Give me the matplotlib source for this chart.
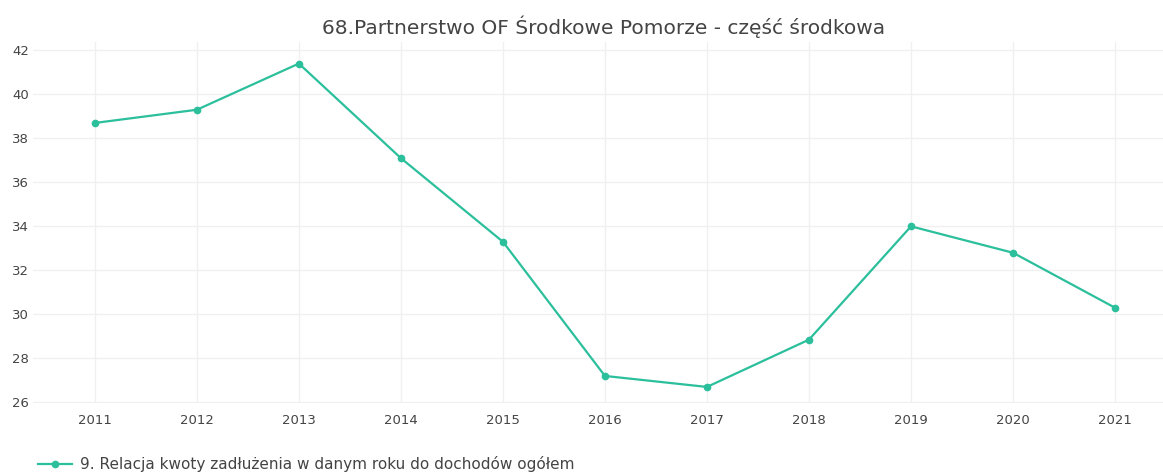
import matplotlib
matplotlib.use("Agg")
import matplotlib.pyplot as plt
from matplotlib.lines import Line2D

years = [2011, 2012, 2013, 2014, 2015, 2016, 2017, 2018, 2019, 2020, 2021]
values = [38.7, 39.3, 41.4, 37.1, 33.3, 27.2, 26.7, 28.85, 34.0, 32.8, 30.3]
y_ticks = [26, 28, 30, 32, 34, 36, 38, 40, 42]
title = "68.Partnerstwo OF Środkowe Pomorze - część środkowa"
series_name = "9. Relacja kwoty zadłużenia w danym roku do dochodów ogółem"

color = "#2bbf9c"
text_color = "#444444"
plt.rcParams['font.family'] = ['DejaVu Sans']

fig = plt.figure(figsize=(11.63, 4.73), dpi=100)
ax = fig.add_axes([33/1163, 1 - 403/473, 1 - 33/1163, (403 - 42)/473])
ax.plot(years, values, color=color, linewidth=1.6, marker='o', markersize=4.5,
        clip_on=False, zorder=3)

ax.set_xlim(2010.394, 2021.47)
ax.set_ylim(25.97, 42.38)
ax.set_xticks(years)
ax.set_xticklabels([str(y) for y in years])
ax.set_yticks(y_ticks)
ax.grid(True, color="#f0f0f0", linewidth=1.0)
ax.set_axisbelow(True)
for s in ax.spines.values():
    s.set_visible(False)
ax.tick_params(axis='both', length=0, labelsize=9.5, colors=text_color)
ax.tick_params(axis='x', pad=8)
ax.tick_params(axis='y', pad=3)

fig.text(604/1163, 1 - 27/473, title, ha='center', va='center',
         fontsize=14.5, color=text_color)

# legend
handle = Line2D([0], [0], color=color, linewidth=1.6, marker='o', markersize=4.5)
fig.legend([handle], [series_name], loc='center left',
           bbox_to_anchor=(32/1163, 1 - 464/473), frameon=False,
           fontsize=11, labelcolor=text_color, handlelength=2.2,
           handletextpad=0.55, borderaxespad=0)

fig.savefig("out.png", dpi=100, facecolor="white")
